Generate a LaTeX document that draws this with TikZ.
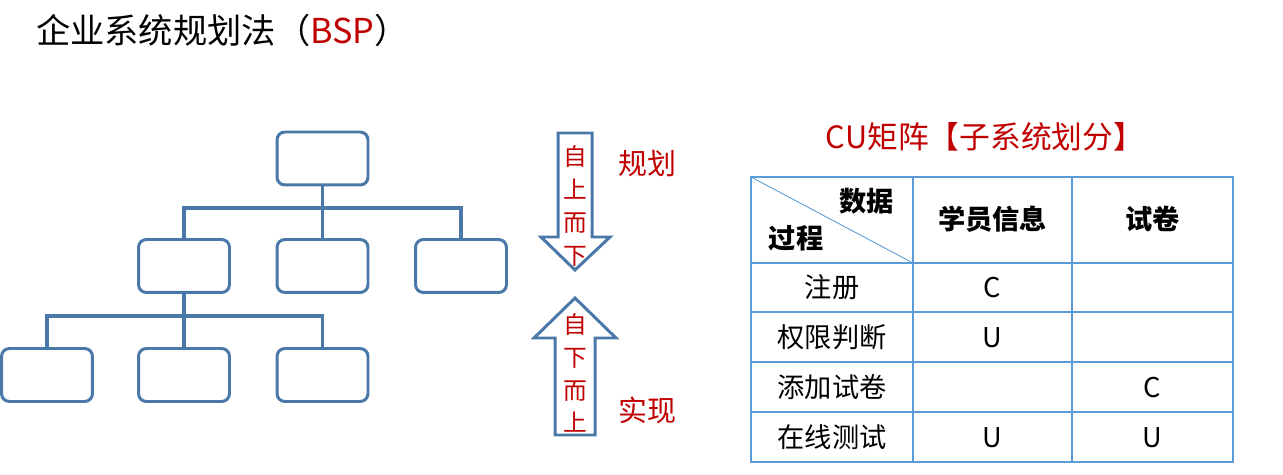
\documentclass[tikz,border=0pt]{standalone}
\usepackage{fontspec}
\setmainfont{Noto Sans CJK SC}
\usetikzlibrary{arrows}
\definecolor{boxblue}{HTML}{4A78A8}
\definecolor{gridblue}{HTML}{5B9BD5}
\definecolor{bspred}{HTML}{C00000}

\tikzset{
  box/.style={draw=boxblue, line width=1.7pt, rounded corners=4.5pt,
    minimum width=1.82cm, minimum height=1.06cm},
  link/.style={draw=boxblue, line width=1.8pt},
  bigarrow/.style={draw=boxblue, line width=1.7pt, line join=miter},
  grid/.style={draw=gridblue, line width=1.1pt},
  cell/.style={font=\fontsize{15.5}{18}\selectfont},
  head/.style={font=\fontsize{15.5}{18}\selectfont\bfseries},
  updown/.style={text=bspred, align=center, font=\fontsize{13.5}{18.7}\selectfont},
}

\begin{document}
\begin{tikzpicture}[x=0.02cm, y=-0.02cm]
\useasboundingbox (0,0) rectangle (1283,475);

% titel
\node [anchor=west, font=\fontsize{19.5}{22}\selectfont] (title) at (30,30)
  {企业系统规划法（\textcolor{bspred}{BSP}）};

% baum
\node [box] (top) at (322.5,158.5) {};
\node [box] (m1) at (184,266) {};
\node [box] (m2) at (322.5,266) {};
\node [box] (m3) at (461,266) {};
\node [box] (b1) at (47,375) {};
\node [box] (b2) at (184,375) {};
\node [box] (b3) at (322.5,375) {};
\coordinate (bus1) at (322.5,208);
\coordinate (bus2) at (184,316);
\draw [link] (top.south) -- (m2.north);
\draw [link] (m1.north) |- (bus1) -| (m3.north);
\draw [link] (m1.south) -- (b2.north);
\draw [link] (b1.north) |- (bus2) -| (b3.north);

% pfeile
\draw [bigarrow] (558,133) -- (592,133) -- (592,237) -- (610,237) -- (575,270)
  -- (541,237) -- (558,237) -- cycle;
\draw [bigarrow] (555,435) -- (595,435) -- (595,338) -- (616,338) -- (575,298)
  -- (534,338) -- (555,338) -- cycle;
\node [updown] (down) at (575,206) {自\\上\\而\\下};
\node [updown] (up) at (575,373) {自\\下\\而\\上};
\node [text=bspred, font=\fontsize{16.5}{18}\selectfont] (plan) at (647,163) {规划};
\node [text=bspred, font=\fontsize{16.5}{18}\selectfont] (impl) at (647,410) {实现};

% CU matrix
\node [text=bspred, font=\fontsize{17.5}{20}\selectfont] (cu) at (985,137)
  {CU矩阵【子系统划分】};
\draw [grid] (751,177) rectangle (1233,462);
\foreach \x in {913,1072} \draw [grid] (\x,177) -- (\x,462);
\foreach \y in {263,312,362,412} \draw [grid] (751,\y) -- (1233,\y);
\draw [draw=gridblue, line width=0.5pt] (751,177) -- (913,263);
\node [head, anchor=east] (data) at (900,201) {数据};
\node [head] (proc) at (796,238) {过程};
\node [head] (h1) at (992.5,219) {学员信息};
\node [head] (h2) at (1152.5,219) {试卷};
\foreach \p/\a/\b [count=\i] in {注册/C/, 权限判断/U/, 添加试卷//C, 在线测试/U/U} {
  \node [cell] (p\i) at (832,237.5+50*\i) {\p};
  \node [cell] (a\i) at (992.5,237.5+50*\i) {\a};
  \node [cell] (c\i) at (1152.5,237.5+50*\i) {\b};
}
\end{tikzpicture}
\end{document}
